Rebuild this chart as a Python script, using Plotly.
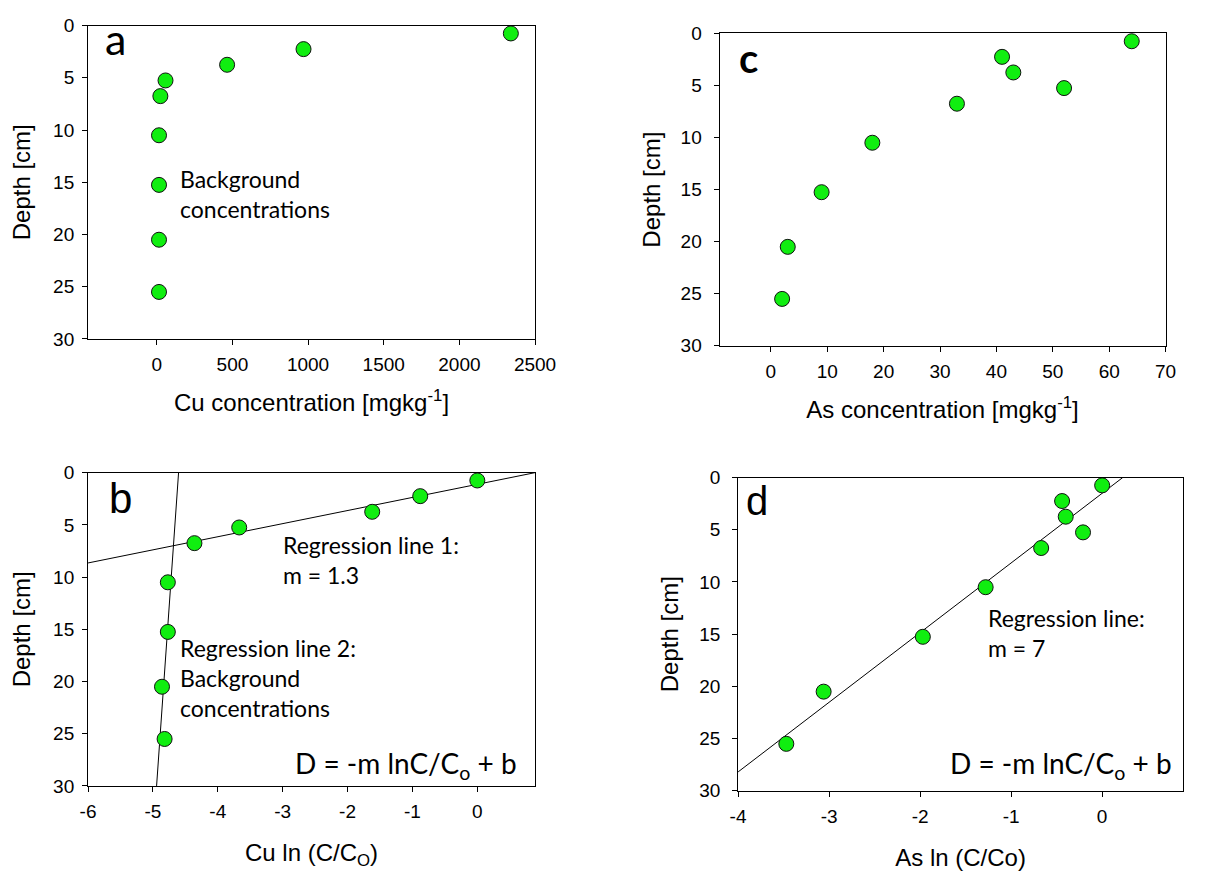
import plotly.graph_objects as go

# ---------------- data ----------------
depth = [0.75, 2.25, 3.75, 5.25, 6.75, 10.5, 15.25, 20.5, 25.5]

cu_conc = [2340, 970, 465, 58, 24, 15, 15, 15, 15]
as_conc = [64, 41, 43, 52, 33, 18, 9, 3, 2]

cu_ln = [0.0, -0.88, -1.62, -3.67, -4.36, -4.77, -4.77, -4.86, -4.82]
as_ln = [0.0, -0.44, -0.40, -0.21, -0.67, -1.28, -1.97, -3.06, -3.47]

# regression lines  D = -m * x + b
cu_line1 = dict(m=1.255, b=1.117)
cu_line2 = dict(m=88.5, b=-407.5)
as_line = dict(m=6.67, b=1.51)

depth_ticks = [0, 5, 10, 15, 20, 25, 30]
cu_conc_ticks = [0, 500, 1000, 1500, 2000, 2500]
as_conc_ticks = [0, 10, 20, 30, 40, 50, 60, 70]
cu_ln_ticks = [-6, -5, -4, -3, -2, -1, 0]
as_ln_ticks = [-4, -3, -2, -1, 0]

# ---------------- layout geometry ----------------
W, H = 1210, 877
TICKFONT = dict(family="Liberation Sans, Arial, sans-serif", size=19, color="black")
TITLEFONT = dict(family="Liberation Sans, Arial, sans-serif", size=24, color="black")
ANNFONT = dict(family="Lato, Carlito, Calibri, sans-serif", size=23, color="black")
EQFONT = dict(family="Lato, Carlito, Calibri, sans-serif", size=28, color="black")

GREEN = "#10ee10"


def dom_x(x0, x1):
    return [x0 / W, x1 / W]


def dom_y(y0, y1):
    return [1 - y1 / H, 1 - y0 / H]


def xaxis(domain, rng, ticks, title, anchor, title_standoff):
    return dict(
        domain=domain, range=rng, anchor=anchor,
        tickvals=ticks, ticktext=[str(t) for t in ticks],
        showline=True, linecolor="black", linewidth=1, mirror=True,
        ticks="outside", ticklen=5, tickcolor="black", tickwidth=1,
        showgrid=False, zeroline=False, tickfont=TICKFONT,
        ticklabelstandoff=3,
        title=dict(text=title, font=TITLEFONT, standoff=title_standoff),
    )


def yaxis(domain, anchor, lab_standoff, title_standoff):
    return dict(
        domain=domain, range=[30, 0], anchor=anchor,
        tickvals=depth_ticks, ticktext=[str(t) for t in depth_ticks],
        showline=True, linecolor="black", linewidth=1, mirror=True,
        ticks="outside", ticklen=5, tickcolor="black", tickwidth=1,
        showgrid=False, zeroline=False, tickfont=TICKFONT,
        ticklabelstandoff=lab_standoff,
        title=dict(text="Depth [cm]", font=TITLEFONT, standoff=title_standoff),
    )


def marker_trace(x, y, xa, ya):
    return go.Scatter(
        x=x, y=y, mode="markers", xaxis=xa, yaxis=ya, showlegend=False,
        marker=dict(size=15, color=GREEN, line=dict(color="#111111", width=1)),
        cliponaxis=False,
    )


def reg_line(p, xrng, xa, ya):
    # endpoints clipped to the axis box
    pts = []
    for x in xrng:
        pts.append((x, -p["m"] * x + p["b"]))
    for d in (0, 30):
        pts.append(((p["b"] - d) / p["m"], d))
    pts = [(x, d) for x, d in pts
           if min(xrng) - 1e-9 <= x <= max(xrng) + 1e-9 and -1e-9 <= d <= 30 + 1e-9]
    pts.sort()
    pts = [pts[0], pts[-1]]
    return go.Scatter(
        x=[q[0] for q in pts], y=[q[1] for q in pts], mode="lines",
        xaxis=xa, yaxis=ya, showlegend=False,
        line=dict(color="black", width=1),
    )


rng_a = [-454, 2500]
rng_c = [-9.1, 70]
rng_b = [-6, 0.89]
rng_d = [-4, 0.89]

fig = go.Figure()
fig.add_trace(reg_line(cu_line1, rng_b, "x3", "y3"))
fig.add_trace(reg_line(cu_line2, rng_b, "x3", "y3"))
fig.add_trace(reg_line(as_line, rng_d, "x4", "y4"))

fig.add_trace(marker_trace(cu_conc, depth, "x", "y"))
fig.add_trace(marker_trace(as_conc, depth, "x2", "y2"))
fig.add_trace(marker_trace(cu_ln, depth, "x3", "y3"))
fig.add_trace(marker_trace(as_ln, depth, "x4", "y4"))

fig.update_layout(
    width=W, height=H,
    margin=dict(l=0, r=0, t=0, b=0),
    paper_bgcolor="white", plot_bgcolor="white",
    font=dict(family="Liberation Sans, Arial, sans-serif", size=19, color="black"),
    showlegend=False,
    xaxis=xaxis(dom_x(82, 540), rng_a, cu_conc_ticks,
                "Cu concentration [mgkg<sup>-1</sup>]", "y", 20),
    yaxis=yaxis(dom_y(16, 337), "x", 4, 15),
    xaxis2=xaxis(dom_x(729, 1186), rng_c, as_conc_ticks,
                 "As concentration [mgkg<sup>-1</sup>]", "y2", 20),
    yaxis2=yaxis(dom_y(24, 344), "x2", 8, 13),
    xaxis3=xaxis(dom_x(82, 540), rng_b, cu_ln_ticks,
                 "Cu ln (C/C<sub>O</sub>)", "y3", 23),
    yaxis3=yaxis(dom_y(474, 795), "x3", 4, 15),
    xaxis4=xaxis(dom_x(748, 1204), rng_d, as_ln_ticks,
                 "As ln (C/Co)", "y4", 23),
    yaxis4=yaxis(dom_y(479, 800), "x4", 8, 13),
)

LETTER_ARIAL = dict(family="Liberation Sans, Arial, sans-serif", size=42, color="black")
LETTER_ARIAL_D = dict(family="Liberation Sans, Arial, sans-serif", size=40, color="black")
LETTER_CAL = dict(family="Lato, Carlito, Calibri, sans-serif", size=43, color="black")
LETTER_CAL_B = dict(family="Lato, Carlito, Calibri, sans-serif", size=40, color="black",
                    weight="bold")

anns = [
    dict(text="a", x=-275, y=1.2, xref="x", yref="y", font=LETTER_CAL),
    dict(text="c", x=-4.0, y=2.4, xref="x2", yref="y2", font=LETTER_CAL_B),
    dict(text="b", x=-5.5, y=2.5, xref="x3", yref="y3", font=LETTER_ARIAL),
    dict(text="d", x=-3.79, y=2.2, xref="x4", yref="y4", font=LETTER_ARIAL_D),
    dict(text="Background<br>concentrations", x=140, y=16.1, xref="x", yref="y",
         xanchor="left", align="left", font=ANNFONT),
    dict(text="Regression line 1:<br>m = 1.3", x=-3.02, y=8.34, xref="x3", yref="y3",
         xanchor="left", align="left", font=ANNFONT),
    dict(text="Regression line 2:<br>Background<br>concentrations", x=-4.62, y=19.7,
         xref="x3", yref="y3", xanchor="left", align="left", font=ANNFONT),
    dict(text="D = -m lnC/C<sub>o</sub> + b", x=0.64, y=27.95, xref="x3", yref="y3",
         xanchor="right", align="right", font=EQFONT),
    dict(text="Regression line:<br>m = 7", x=-1.274, y=14.87, xref="x4", yref="y4",
         xanchor="left", align="left", font=ANNFONT),
    dict(text="D = -m lnC/C<sub>o</sub> + b", x=0.79, y=27.5, xref="x4", yref="y4",
         xanchor="right", align="right", font=EQFONT),
]
for a in anns:
    a.setdefault("xanchor", "center")
    a.setdefault("yanchor", "middle")
    a["showarrow"] = False
fig.update_layout(annotations=anns)

fig.write_html(
    "out.html",
    config={"displayModeBar": False},
    post_script=(
        "document.documentElement.style.margin='0';"
        "document.body.style.margin='0';"
        "document.body.style.padding='0';"
        "document.body.style.overflow='hidden';"
    ),
)
